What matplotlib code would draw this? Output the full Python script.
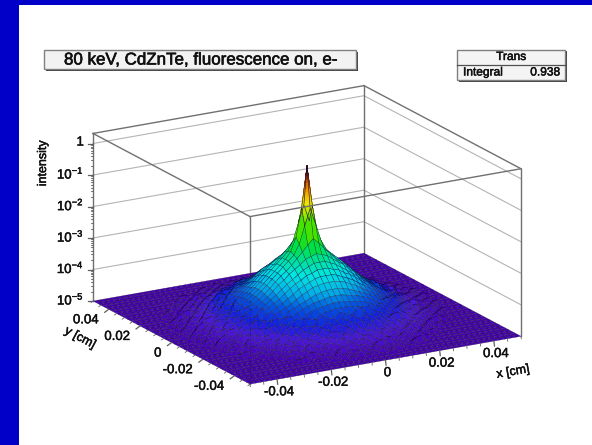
import numpy as np
import matplotlib
matplotlib.use('Agg')
import matplotlib.pyplot as plt
import matplotlib.patheffects as pe
from matplotlib.colors import LinearSegmentedColormap
from matplotlib.patches import Rectangle
from mpl_toolkits.mplot3d import proj3d

plt.rcParams['font.family'] = ['Liberation Sans', 'DejaVu Sans']
plt.rcParams['mathtext.default'] = 'regular'

title = '80 keV, CdZnTe, fluorescence on, e-'
stats_name = 'Trans'
stats_key = 'Integral'
stats_value = '0.938'

xy_lim = [-0.05, 0.05]
z_lim = [-5, 0.32]
xy_ticks = [-0.04, -0.02, 0, 0.02, 0.04]
xy_tick_labels = ['-0.04', '-0.02', '0', '0.02', '0.04']
xy_minor = [-0.05, -0.045, -0.035, -0.03, -0.025, -0.015, -0.01, -0.005, 0.005,
            0.01, 0.015, 0.025, 0.03, 0.035, 0.045, 0.05]
z_ticks = [-5, -4, -3, -2, -1, 0]
z_tick_labels = ['$10^{-5}$', '$10^{-4}$', '$10^{-3}$', '$10^{-2}$', '$10^{-1}$', '1']

# log10(intensity), one value per quarter bin of radius
ring_log = [-0.14, -0.50, -0.80, -1.15, -1.45, -1.70, -1.97, -2.15, -2.35, -2.52, -2.63, -2.72,
            -2.78, -2.84, -2.90, -2.95, -3.00, -3.04, -3.08, -3.12, -3.16, -3.20, -3.24, -3.28,
            -3.32, -3.36, -3.40, -3.44, -3.48, -3.52, -3.56, -3.60, -3.65, -3.69, -3.73, -3.76,
            -3.80, -3.84, -3.88, -3.91, -3.95, -3.98, -4.01, -4.04, -4.07, -4.10, -4.13, -4.17,
            -4.20, -4.23, -4.26, -4.29, -4.32, -4.35, -4.37, -4.40, -4.43, -4.46, -4.48, -4.51,
            -4.54, -4.56, -4.59, -4.61, -4.64, -4.66, -4.68, -4.70, -4.72, -4.74, -4.75, -4.77,
            -4.79, -4.80, -4.82, -4.83, -4.85, -4.86, -4.87, -4.89, -4.90, -4.91, -4.92, -4.93,
            -4.94, -4.95, -4.96, -4.97, -4.98, -4.985, -4.99, -4.995, -5.00]
# the lumps seen in the outer ring
lumps = [[0.08, -0.05, 0.10, -0.08, 0.03, 0.09, -0.06],
         [-0.07, 0.11, -0.03, 0.06, -0.10, 0.02, 0.07],
         [0.04, -0.09, 0.07, 0.12, -0.04, -0.08, 0.05],
         [0.10, 0.02, -0.11, -0.02, 0.08, 0.05, -0.09],
         [-0.05, 0.07, 0.04, -0.09, 0.11, -0.06, 0.01],
         [0.06, -0.10, 0.09, 0.03, -0.07, 0.10, -0.03],
         [-0.08, 0.04, -0.06, 0.08, 0.02, -0.11, 0.09]]

root_colors = [(-5.0, '#4600b4'), (-4.7, '#4a18d8'), (-4.4, '#1020e0'), (-4.0, '#0060e0'),
               (-3.7, '#00b0e8'), (-3.3, '#00e8e0'), (-3.0, '#00e0a0'), (-2.6, '#00e040'),
               (-2.2, '#30e000'), (-1.7, '#80e800'), (-1.25, '#f0e800'), (-0.8, '#f09000'),
               (-0.4, '#b03000'), (-0.14, '#500010')]

W, H = 592, 445
fig = plt.figure(figsize=(W / 100, H / 100), dpi=100, facecolor='white')
ax = fig.add_axes([0, 0, 1, 1], projection='3d', computed_zorder=False, proj_type='ortho')
ax.patch.set_alpha(0)
ax.set_axis_off()
ax.set_xlim(*xy_lim)
ax.set_ylim(*xy_lim)
ax.set_zlim(*z_lim)
ax.view_init(elev=17.8, azim=-120)
ax.set_box_aspect((313, 314, 176), zoom=1.0)


def to_px(x, y, z):
    xs, ys, _ = proj3d.proj_transform(x, y, z, ax.get_proj())
    px, py = ax.transData.transform((xs, ys))
    return px, H - py


# fit the box onto the corners measured in the picture
zoom = 1.0
for _ in range(3):
    fig.canvas.draw()
    xl, yl = to_px(-0.05, 0.05, -5)
    xr, yr = to_px(0.05, -0.05, -5)
    zoom *= (521 - 93) / (xr - xl)
    ax.set_box_aspect((313, 314, 176), zoom=zoom)
    fig.canvas.draw()
    xl, yl = to_px(-0.05, 0.05, -5)
    box = ax.get_position(original=True)
    ax.set_position([box.x0 + (93 - xl) / W, box.y0 - (301 - yl) / H, box.width, box.height])
fig.canvas.draw()

# surface
n = 25
bins = np.arange(-n, n + 1)
bin_x, bin_y = np.meshgrid(bins, bins)
r = np.hypot(bin_x, bin_y)
ring = np.minimum(np.rint(4 * r).astype(int), len(ring_log) - 1)
Z = np.array(ring_log)[ring]
tile = np.array(lumps)
bump = tile[bin_y % 7, bin_x % 7]
Z = Z + bump * ((r > 12) & (r < 22.5))
Z = np.clip(Z, -5, None)
X = bin_x * 0.002
Y = bin_y * 0.002

cmap = LinearSegmentedColormap.from_list(
    'root', [((v + 5) / 4.86, c) for v, c in root_colors])


def face_colors(zz):
    mean = (zz[:-1, :-1] + zz[1:, :-1] + zz[:-1, 1:] + zz[1:, 1:]) / 4
    return cmap((mean + 5) / 4.86)


# back walls and box, behind the surface
wall = '#b4b4b4'
edge = '#707070'
for v in z_ticks[1:]:
    ax.plot([-0.05, 0.05], [0.05, 0.05], [v, v], color=wall, lw=0.8, zorder=1)
    ax.plot([0.05, 0.05], [0.05, -0.05], [v, v], color=wall, lw=0.8, zorder=1)
ax.plot([-0.05, 0.05], [0.05, 0.05], [0.32, 0.32], color=edge, lw=1.0, zorder=1)
ax.plot([0.05, 0.05], [0.05, -0.05], [0.32, 0.32], color=edge, lw=1.0, zorder=1)
for cx, cy in [(-0.05, 0.05), (0.05, 0.05), (0.05, -0.05), (-0.05, -0.05)]:
    ax.plot([cx, cx], [cy, cy], [-5, 0.32], color=edge, lw=1.0, zorder=1)

ax.plot_surface(X, Y, Z, facecolors=face_colors(Z), rstride=1, cstride=1, shade=False,
                edgecolor=(0.08, 0.03, 0.18, 0.6), linewidth=0.3, antialiased=True, zorder=5)

# the four cells round the peak, split so the colour runs up the spike
fine = np.linspace(-1, 1, 25)
fine_x, fine_y = np.meshgrid(fine, fine)
core = Z[n - 1:n + 2, n - 1:n + 2]
ix = np.clip(np.floor(fine_x + 1).astype(int), 0, 1)
iy = np.clip(np.floor(fine_y + 1).astype(int), 0, 1)
tx = fine_x + 1 - ix
ty = fine_y + 1 - iy
fine_z = (core[iy, ix] * (1 - tx) * (1 - ty) + core[iy, ix + 1] * tx * (1 - ty)
          + core[iy + 1, ix] * (1 - tx) * ty + core[iy + 1, ix + 1] * tx * ty)
ax.plot_surface(fine_x * 0.002, fine_y * 0.002, fine_z, facecolors=face_colors(fine_z),
                rstride=1, cstride=1, shade=False, linewidth=0, antialiased=False, zorder=6)
for a in [-1, 0, 1]:
    ax.plot(bins[n - 1:n + 2] * 0.002, np.full(3, a * 0.002), Z[n + a, n - 1:n + 2],
            color='#14082e', lw=0.4, zorder=7)
    ax.plot(np.full(3, a * 0.002), bins[n - 1:n + 2] * 0.002, Z[n - 1:n + 2, n + a],
            color='#14082e', lw=0.4, zorder=7)

# front top edges pass over the peak
ax.plot([-0.05, -0.05], [0.05, -0.05], [0.32, 0.32], color=edge, lw=1.0, zorder=8)
ax.plot([-0.05, 0.05], [-0.05, -0.05], [0.32, 0.32], color=edge, lw=1.0, zorder=8)

# flat overlay in picture pixels for frame, boxes, ticks and labels
ov = fig.add_axes([0, 0, 1, 1], zorder=10)
ov.set_xlim(0, W)
ov.set_ylim(H, 0)
ov.axis('off')
ov.patch.set_alpha(0)

ov.add_patch(Rectangle((0, 0), 19, H, color='#0000c8', lw=0))
ov.add_patch(Rectangle((0, 0), W, 5, color='#0000c8', lw=0))


def label(x, y, s, size=9.5, stroke=0.35, **kw):
    t = ov.text(x, y, s, fontsize=size, color='#101010', va='center', **kw)
    t.set_path_effects([pe.withStroke(linewidth=stroke, foreground='#101010')])


ov.add_patch(Rectangle((46, 52), 312, 19, color='#404040', lw=0))
ov.add_patch(Rectangle((44, 49.5), 312, 19.5, facecolor='#f2f2f2', edgecolor='#808080', lw=1))
label(201, 60, title, size=12.2, stroke=0.45, ha='center')

ov.add_patch(Rectangle((459, 51), 108, 31, color='#404040', lw=0))
ov.add_patch(Rectangle((457, 49.5), 108, 30.5, facecolor='#f4f4f4', edgecolor='#808080', lw=1))
ov.plot([457, 565], [64.5, 64.5], color='#505050', lw=0.9)
label(511, 57, stats_name, size=8.6, ha='center')
label(463, 72.5, stats_key, size=8.6, ha='left')
label(560, 72.5, stats_value, size=8.6, ha='right')

tick_color = '#606060'
for v, lab in zip(z_ticks, z_tick_labels):
    px, py = to_px(-0.05, 0.05, v)
    ov.plot([px - 5, px], [py, py], color=tick_color, lw=0.9)
    label(px - 9, py - 1, lab, ha='right')
    if v < 0:
        for m in range(2, 10):
            mx, my = to_px(-0.05, 0.05, v + np.log10(m))
            ov.plot([mx - 2.5, mx], [my, my], color=tick_color, lw=0.6)
label(43, 163, 'intensity', size=9, rotation=90, ha='center')

for v, lab in zip(xy_ticks, xy_tick_labels):
    px, py = to_px(v, -0.05, -5)
    ov.plot([px, px + 0.6], [py, py + 5], color=tick_color, lw=0.9)
    label(px + 2, py + 13, lab, ha='center')
    px, py = to_px(-0.05, v, -5)
    ov.plot([px, px - 4], [py, py + 3], color=tick_color, lw=0.9)
    label(px - 10, py + 11, lab, ha='right')
for v in xy_minor:
    px, py = to_px(v, -0.05, -5)
    ov.plot([px, px + 0.3], [py, py + 2.5], color=tick_color, lw=0.6)
    px, py = to_px(-0.05, v, -5)
    ov.plot([px, px - 2], [py, py + 1.5], color=tick_color, lw=0.6)

label(513, 372, 'x [cm]', size=9, rotation=10, ha='center')
label(80, 338, 'y [cm]', size=9, rotation=-28, ha='center')

fig.savefig('out.png', dpi=100, facecolor='white')
